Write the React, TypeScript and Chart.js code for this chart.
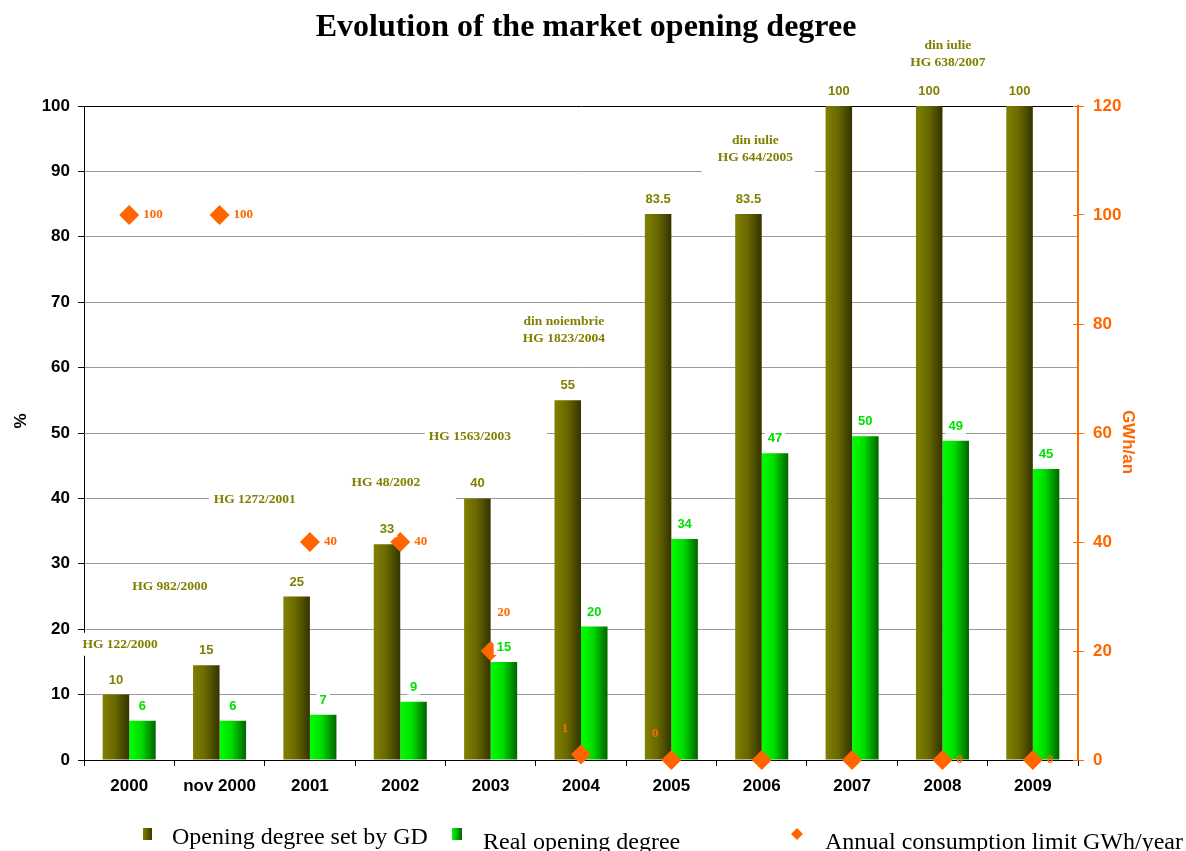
import React, { useEffect, useRef } from 'react';
import { Chart, registerables } from 'chart.js';

Chart.register(...registerables);

// ---------- DATA ----------
const categories = ['2000', 'nov 2000', '2001', '2002', '2003', '2004', '2005', '2006', '2007', '2008', '2009'];
const setByGD = [10, 14.5, 25, 33, 40, 55, 83.5, 83.5, 100, 100, 100];
const setByGDLabels = ['10', '15', '25', '33', '40', '55', '83.5', '83.5', '100', '100', '100'];
const realOpening = [6, 6, 6.9, 8.9, 15, 20.4, 33.8, 46.9, 49.5, 48.8, 44.5];
const realOpeningLabels = ['6', '6', '7', '9', '15', '20', '34', '47', '50', '49', '45'];
const consumptionLimit = [100, 100, 40, 40, 20, 1, 0, 0, 0, 0, 0];
const consumptionLimitLabels = ['100', '100', '40', '40', '20', '1', '0', '', '', '0', '0'];
const leftTicks = [0, 10, 20, 30, 40, 50, 60, 70, 80, 90, 100];
const rightTicks = [0, 20, 40, 60, 80, 100, 120];

const seriesNames = ['Opening degree set by GD', 'Real opening degree', 'Annual consumption limit GWh/year'];
const chartTitle = 'Evolution of the market opening degree';
const leftAxisTitle = '%';
const rightAxisTitle = 'GWh/an';

// annotations: text lines, category position (index), value on % axis
const annotationTexts = [
  ['HG 122/2000'],
  ['HG 982/2000'],
  ['HG 1272/2001'],
  ['HG 48/2002'],
  ['HG 1563/2003'],
  ['din noiembrie', 'HG 1823/2004'],
  ['din iulie', 'HG 644/2005'],
  ['din iulie', 'HG 638/2007'],
];
const annotationCategoryPos = [-0.1, 0.45, 1.39, 2.84, 3.77, 4.81, 6.93, 9.06];
const annotationValues = [17.7, 26.5, 39.8, 42.5, 49.4, 65.8, 93.4, 108.0];

// ---------- STYLES ----------
const OLIVE = '#808000';
const GREEN_TXT = '#00E000';
const ORANGE = '#FF6600';
const SANS = "'Liberation Sans', Arial, sans-serif";
const SERIF = "'Liberation Serif', 'Times New Roman', serif";
// white backing boxes behind annotations: [extraLeft, extraRight, extraTop, extraBottom]
const annotationBoxPad = [
  [3, 3, 3, 3],
  [3, 3, 3, 3],
  [5, 160, 3, 3],
  [3, 3, 3, 3],
  [4, 36, 3, 3],
  [3, 3, 3, 3],
  [16, 22, 4, 8],
  [3, 3, 3, 3],
];
// placement of consumption-limit value labels
const limitLabelPlacement = ['right', 'right', 'right', 'right', 'above', 'upLeft', 'upLeft', 'none', 'none', 'right', 'right'];

const barGradientPlugin = {
  id: 'barGradient',
  beforeDatasetsDraw(chart: any) {
    const ctx = chart.ctx;
    [0, 1].forEach((di) => {
      const meta = chart.getDatasetMeta(di);
      meta.data.forEach((el: any) => {
        const { x, width } = el.getProps(['x', 'width'], true);
        const g = ctx.createLinearGradient(x - width / 2, 0, x + width / 2, 0);
        if (di === 0) {
          g.addColorStop(0, '#808000');
          g.addColorStop(0.45, '#6A6A00');
          g.addColorStop(1, '#333300');
        } else {
          g.addColorStop(0, '#00FF00');
          g.addColorStop(0.45, '#00DD00');
          g.addColorStop(1, '#006400');
        }
        el.options = { ...el.options, backgroundColor: g };
      });
    });
  },
};

const annotationPlugin = {
  id: 'annotations',
  beforeDatasetsDraw(chart: any) {
    const ctx = chart.ctx;
    const xs = chart.scales.x;
    const ys = chart.scales.y;
    ctx.save();
    ctx.font = `bold 13.5px ${SERIF}`;
    ctx.textAlign = 'center';
    ctx.textBaseline = 'middle';
    const lineH = 17;
    annotationTexts.forEach((lines, i) => {
      const cx = xs.getPixelForValue(0) + annotationCategoryPos[i] * (xs.getPixelForValue(1) - xs.getPixelForValue(0));
      const cy = ys.getPixelForValue(annotationValues[i]);
      const w = Math.max(...lines.map((l) => ctx.measureText(l).width));
      const h = lines.length * lineH;
      const [pl, pr, pt, pb] = annotationBoxPad[i];
      ctx.fillStyle = '#fff';
      ctx.fillRect(cx - w / 2 - pl, cy - h / 2 - pt, w + pl + pr, h + pt + pb);
      ctx.fillStyle = OLIVE;
      lines.forEach((l, k) => {
        ctx.fillText(l, cx, cy - h / 2 + lineH / 2 + k * lineH);
      });
    });
    ctx.restore();
  },
};

const labelsPlugin = {
  id: 'valueLabels',
  afterDatasetsDraw(chart: any) {
    const ctx = chart.ctx;
    ctx.save();
    ctx.textAlign = 'center';
    ctx.textBaseline = 'middle';
    // bar labels
    ctx.font = `bold 13px ${SANS}`;
    [0, 1].forEach((di) => {
      const meta = chart.getDatasetMeta(di);
      const labels = di === 0 ? setByGDLabels : realOpeningLabels;
      meta.data.forEach((el: any, i: number) => {
        const { x, y } = el.getProps(['x', 'y'], true);
        const t = labels[i];
        const w = ctx.measureText(t).width;
        const ly = y - 15;
        ctx.fillStyle = '#fff';
        ctx.fillRect(x - w / 2 - 3, ly - 8, w + 6, 16);
        ctx.fillStyle = di === 0 ? OLIVE : GREEN_TXT;
        ctx.fillText(t, x, ly + 0.5);
      });
    });
    // consumption-limit labels
    ctx.font = `bold 13px ${SERIF}`;
    ctx.fillStyle = ORANGE;
    const meta = chart.getDatasetMeta(2);
    meta.data.forEach((el: any, i: number) => {
      const { x, y } = el.getProps(['x', 'y'], true);
      const t = consumptionLimitLabels[i];
      const p = limitLabelPlacement[i];
      if (!t || p === 'none') return;
      if (p === 'right') {
        ctx.textAlign = 'left';
        ctx.fillText(t, x + 14, y);
      } else if (p === 'above') {
        ctx.textAlign = 'center';
        ctx.fillText(t, x + 13, y - 38);
      } else if (p === 'upLeft') {
        ctx.textAlign = 'center';
        ctx.fillText(t, x - 16, y - 26);
      }
    });
    ctx.restore();
  },
};

const decorPlugin = {
  id: 'decor',
  afterDraw(chart: any) {
    const ctx = chart.ctx;
    const area = chart.chartArea;
    ctx.save();
    // title
    ctx.fillStyle = '#000';
    ctx.font = `bold 32px ${SERIF}`;
    ctx.textAlign = 'center';
    ctx.textBaseline = 'middle';
    ctx.fillText(chartTitle, 586, 28);
    // left axis title
    ctx.save();
    ctx.translate(21, 421);
    ctx.rotate(-Math.PI / 2);
    ctx.font = `bold 17px ${SANS}`;
    ctx.fillText(leftAxisTitle, 0, 0);
    ctx.restore();
    // right axis title
    ctx.save();
    ctx.translate(1128, 442);
    ctx.rotate(Math.PI / 2);
    ctx.font = `bold 17px ${SANS}`;
    ctx.fillStyle = ORANGE;
    ctx.fillText(rightAxisTitle, 0, 0);
    ctx.restore();
    // inner tick marks on right axis
    const y2 = chart.scales.y2;
    ctx.strokeStyle = ORANGE;
    ctx.lineWidth = 1;
    rightTicks.forEach((v) => {
      const py = Math.round(y2.getPixelForValue(v)) + 0.5;
      ctx.beginPath();
      ctx.moveTo(area.right - 5, py);
      ctx.lineTo(area.right, py);
      ctx.stroke();
    });
    // legend
    const ds = chart.data.datasets;
    ctx.textAlign = 'left';
    ctx.textBaseline = 'alphabetic';
    ctx.font = `24px ${SERIF}`;
    // item 1
    let g = ctx.createLinearGradient(143, 0, 152, 0);
    g.addColorStop(0, '#808000');
    g.addColorStop(1, '#3A3A00');
    ctx.fillStyle = g;
    ctx.fillRect(143, 828, 9, 12);
    ctx.fillStyle = '#000';
    ctx.fillText(ds[0].label, 172, 844);
    // item 2
    g = ctx.createLinearGradient(452, 0, 462, 0);
    g.addColorStop(0, '#00FF00');
    g.addColorStop(1, '#006400');
    ctx.fillStyle = g;
    ctx.fillRect(452, 828, 10, 12);
    ctx.fillStyle = '#000';
    ctx.fillText(ds[1].label, 483, 849);
    // item 3
    ctx.fillStyle = ORANGE;
    ctx.beginPath();
    ctx.moveTo(797, 828);
    ctx.lineTo(803, 834);
    ctx.lineTo(797, 840);
    ctx.lineTo(791, 834);
    ctx.closePath();
    ctx.fill();
    ctx.fillStyle = '#000';
    ctx.fillText(ds[2].label, 825, 849);
    ctx.restore();
  },
};

export default function App() {
  const ref = useRef<HTMLCanvasElement>(null);
  useEffect(() => {
    document.body.style.margin = '0';
    const canvas = ref.current!;
    const chart = new Chart(canvas, {
      type: 'bar',
      data: {
        labels: categories,
        datasets: [
          {
            type: 'bar',
            label: seriesNames[0],
            data: setByGD,
            backgroundColor: OLIVE,
            yAxisID: 'y',
            categoryPercentage: 0.587,
            barPercentage: 1,
            order: 2,
          },
          {
            type: 'bar',
            label: seriesNames[1],
            data: realOpening,
            backgroundColor: '#00FF00',
            yAxisID: 'y',
            categoryPercentage: 0.587,
            barPercentage: 1,
            order: 2,
          },
          {
            type: 'line',
            label: seriesNames[2],
            data: consumptionLimit,
            yAxisID: 'y2',
            showLine: false,
            pointStyle: 'rectRot',
            pointRadius: 10,
            pointHoverRadius: 10,
            pointBackgroundColor: ORANGE,
            pointBorderColor: ORANGE,
            pointBorderWidth: 0,
            clip: false,
            order: 1,
          } as any,
        ],
      },
      options: {
        responsive: false,
        animation: false,
        devicePixelRatio: 1,
        layout: { padding: { top: 106, left: 0, right: 0, bottom: 0 } },
        plugins: {
          legend: { display: false },
          title: { display: false },
          tooltip: { enabled: false },
        },
        scales: {
          x: {
            offset: true,
            grid: {
              display: true,
              offset: true,
              drawOnChartArea: false,
              drawTicks: true,
              tickLength: 6,
              tickColor: '#000',
            },
            border: { color: '#000', width: 1 },
            ticks: {
              color: '#000',
              font: { family: SANS, size: 17, weight: 'bold' },
              padding: 10,
              maxRotation: 0,
              autoSkip: false,
            },
            afterFit: (s: any) => {
              s.height = 91;
            },
          },
          y: {
            position: 'left',
            min: 0,
            max: 100,
            afterBuildTicks: (s: any) => {
              s.ticks = leftTicks.map((v) => ({ value: v }));
            },
            ticks: {
              color: '#000',
              font: { family: SANS, size: 17, weight: 'bold' },
              padding: 8,
            },
            grid: {
              color: (c: any) => (c.tick && c.tick.value === 100 ? '#000' : '#9a9a9a'),
              tickColor: '#000',
              tickLength: 6,
              lineWidth: 1,
            },
            border: { color: '#000', width: 1 },
            afterFit: (s: any) => {
              s.width = 84;
            },
          },
          y2: {
            position: 'right',
            min: 0,
            max: 120,
            afterBuildTicks: (s: any) => {
              s.ticks = rightTicks.map((v) => ({ value: v }));
            },
            ticks: {
              color: ORANGE,
              font: { family: SANS, size: 17, weight: 'bold' },
              padding: 9,
            },
            grid: {
              drawOnChartArea: false,
              tickColor: ORANGE,
              tickLength: 6,
            },
            border: { color: ORANGE, width: 2 },
            afterFit: (s: any) => {
              s.width = 108;
            },
          },
        } as any,
      },
      plugins: [barGradientPlugin, annotationPlugin, labelsPlugin, decorPlugin],
    });
    return () => chart.destroy();
  }, []);
  return (
    <canvas
      ref={ref}
      width={1186}
      height={851}
      style={{ display: 'block', width: 1186, height: 851 }}
    />
  );
}
